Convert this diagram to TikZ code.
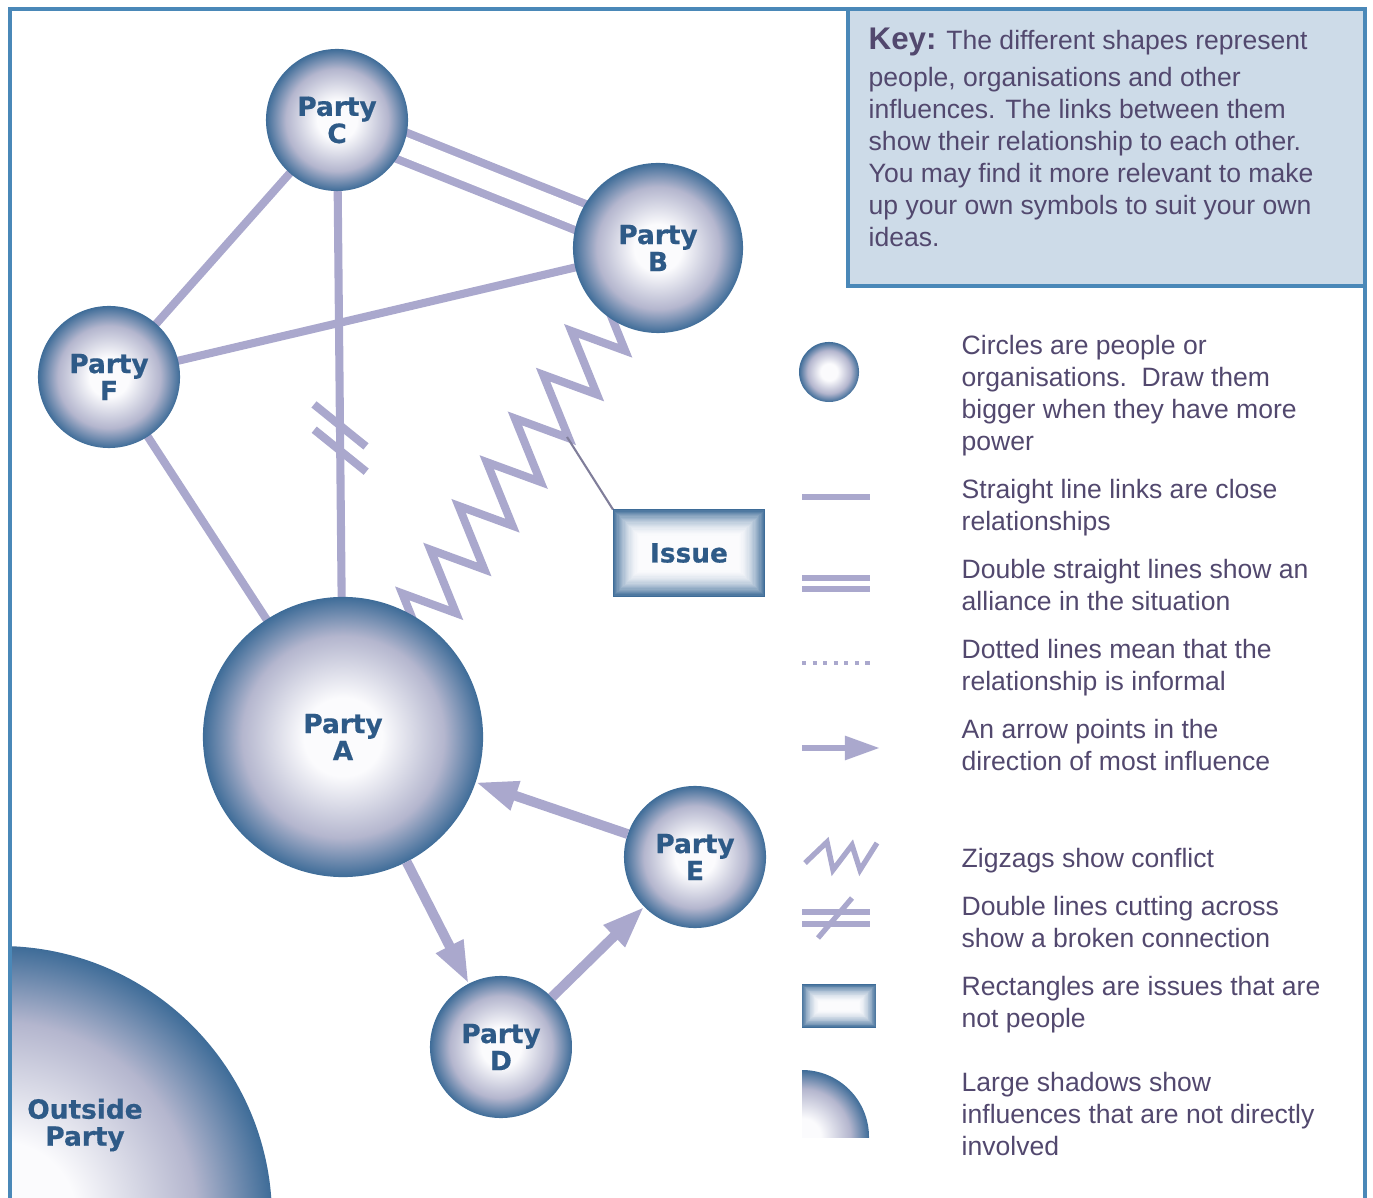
\documentclass[tikz,border=0pt]{standalone}
\usepackage{fontspec}
\setmainfont{Liberation Sans}
\newfontfamily\partyfont{DejaVu Sans}[BoldFeatures={FakeBold=0.6}]
\usetikzlibrary{arrows.meta,calc,decorations.pathmorphing}

\definecolor{frameblue}{RGB}{74,136,184}
\definecolor{keyfill}{RGB}{205,219,232}
\definecolor{keyink}{RGB}{82,72,110}
\definecolor{linkpurple}{RGB}{170,168,205}
\definecolor{partyblue}{RGB}{46,90,135}
\definecolor{ballhi}{RGB}{251,251,253}
\definecolor{ballmid}{RGB}{180,182,206}
\definecolor{balledge}{RGB}{62,108,152}

\pgfdeclareradialshading{partyball}{\pgfpoint{0bp}{0bp}}{color(0bp)=(ballhi); color(7bp)=(ballhi); color(18bp)=(ballmid); color(25bp)=(balledge); color(50bp)=(balledge)}

\pgfdeclarelayer{links}
\pgfsetlayers{links,main}

\tikzset{
	partytext/.style={inner sep=0pt, align=center, text=partyblue, font=\partyfont\bfseries\fontsize{7.5}{7.7}\selectfont},
	party/.style={partytext, circle, shade, shading=partyball, outer sep=0pt},
	issuebox/.style={partytext, rectangle, fill=ballhi, outer sep=0pt, path picture={
		\foreach \k [evaluate=\k as \tint using int(100*(1-\k/24)^2)] in {0,...,23}
			\draw[line width=#1+0.006cm, color=balledge!\tint!ballhi] ($(path picture bounding box.south west)+(0.5*#1+\k*#1,0.5*#1+\k*#1)$) rectangle ($(path picture bounding box.north east)-(0.5*#1+\k*#1,0.5*#1+\k*#1)$);
	}},
	issuebox/.default=0.012cm,
	link/.style={line width=2.3pt, color=linkpurple},
	pull/.style={line width=2.8pt, color=linkpurple, -{Triangle[length=12pt,width=8pt]}},
	keytxt/.style={anchor=base west, inner sep=0pt, align=left, text=keyink, font=\fontsize{7.55}{9.1}\selectfont},
	icon/.style={line width=1.5pt, color=linkpurple},
}

\begin{document}
\begin{tikzpicture}[x=0.01cm, y=-0.01cm]
		%%%%% START %%%%%
		\useasboundingbox (0,0) rectangle (1373,1198);
		
		% outside party, cut by the frame
		\begin{scope}
			\clip (12,800) rectangle (500,1198);
			\shade[shading=partyball] (0,1218) circle (272);
		\end{scope}
		\node[partytext] (outside) at (85,1125) {Outside\\Party};
		
		% frame and key
		\draw[line width=1.2pt, color=frameblue] (10,1198) -- (10,9) -- (1365,9) -- (1365,1198);
		\draw[line width=1.4pt, color=frameblue, fill=keyfill] (848,9) rectangle (1365,286);
		\node[keytxt] (key) at (868,247) {{\bfseries\fontsize{8.9}{9.1}\selectfont Key:} The different shapes represent\\[1.5pt]people, organisations and other\\influences. The links between them\\show their relationship to each other.\\You may find it more relevant to make\\up your own symbols to suit your own\\ideas.};
		
		% parties
		\node[party, minimum size=1.42cm] (C) at (337,120) {Party\\C};
		\node[party, minimum size=1.70cm] (B) at (658,248) {Party\\B};
		\node[party, minimum size=1.42cm] (F) at (109,377) {Party\\F};
		\node[party, minimum size=2.80cm] (A) at (343,737) {Party\\A};
		\node[party, minimum size=1.42cm] (E) at (695,857) {Party\\E};
		\node[party, minimum size=1.42cm] (D) at (501,1047) {Party\\D};
		\node[issuebox, minimum width=1.52cm, minimum height=0.87cm] (issue) at (689,553) {Issue};
		
		\coordinate (zz) at (567,437);
		
		\begin{pgfonlayer}{links}
			\draw[link] (C.center) -- (F.center);
			\draw[link] (F.center) -- (B.center);
			\draw[link] (F.center) -- (A.center);
			\draw[link] (C.center) -- (A.center);
			\draw[link, double=white, double distance=0.2cm] (C.center) -- (B.center);
			\draw[link, decorate, decoration={zigzag, segment length=0.52cm, amplitude=0.28cm, pre length=0.29cm, transform={xslant=0.24}}] (A.center) -- (B.center);
			\draw[line width=0.6pt, color=linkpurple!75!black] (zz) -- (issue.north west);
		\end{pgfonlayer}
		
		% broken connection
		\path (C.center) -- (A.center) coordinate[pos=0.495] (cut1) coordinate[pos=0.536] (cut2);
		\draw[link] ($(cut1)+(-26,-21)$) -- ($(cut1)+(26,21)$);
		\draw[link] ($(cut2)+(-26,-21)$) -- ($(cut2)+(26,21)$);
		
		% influence
		\draw[pull] (E) -- (A);
		\draw[pull] (A) -- (D);
		\draw[pull] (D) -- (E);
		
		% legend symbols
		\node[party, minimum size=0.6cm] (lg-ball) at (829,372) {};
		\draw[icon] (802,497) -- (870,497);
		\draw[icon] (802,578) -- (870,578);
		\draw[icon] (802,589) -- (870,589);
		\draw[icon, line width=1.2pt, dash pattern=on 1.2pt off 1.8pt] (802,663) -- (870,663);
		\draw[icon, line width=1.8pt, -{Triangle[length=10pt,width=6.5pt]}] (802,748) -- (880,748);
		\draw[icon, line join=miter] (805,863) -- (827,842) -- (833,870) -- (852,845) -- (860,870) -- (877,843);
		\draw[icon] (802,912) -- (870,912);
		\draw[icon] (802,924) -- (870,924);
		\draw[icon] (818,938) -- (852,898);
		\node[issuebox=0.008cm, minimum width=0.74cm, minimum height=0.43cm] (lg-box) at (839,1006) {};
		\begin{scope}
			\clip (802,1060) rectangle (880,1137);
			\shade[shading=partyball] (802,1137) circle (67);
		\end{scope}
		
		% legend text (placed by the baseline of the last line)
		\node[keytxt] (lg-circles) at (961,451) {Circles are people or\\organisations.\ \ Draw them\\bigger when they have more\\power};
		\node[keytxt] (lg-line) at (961,531) {Straight line links are close\\relationships};
		\node[keytxt] (lg-double) at (961,611) {Double straight lines show an\\alliance in the situation};
		\node[keytxt] (lg-dots) at (961,691) {Dotted lines mean that the\\relationship is informal};
		\node[keytxt] (lg-arrow) at (961,771) {An arrow points in the\\direction of most influence};
		\node[keytxt] (lg-zigzag) at (961,867) {Zigzags show conflict};
		\node[keytxt] (lg-broken) at (961,947) {Double lines cutting across\\show a broken connection};
		\node[keytxt] (lg-rect) at (961,1027) {Rectangles are issues that are\\not people};
		\node[keytxt] (lg-shadow) at (961,1155) {Large shadows show\\influences that are not directly\\involved};
		
		%%%%% END %%%%%
\end{tikzpicture}
\end{document}
